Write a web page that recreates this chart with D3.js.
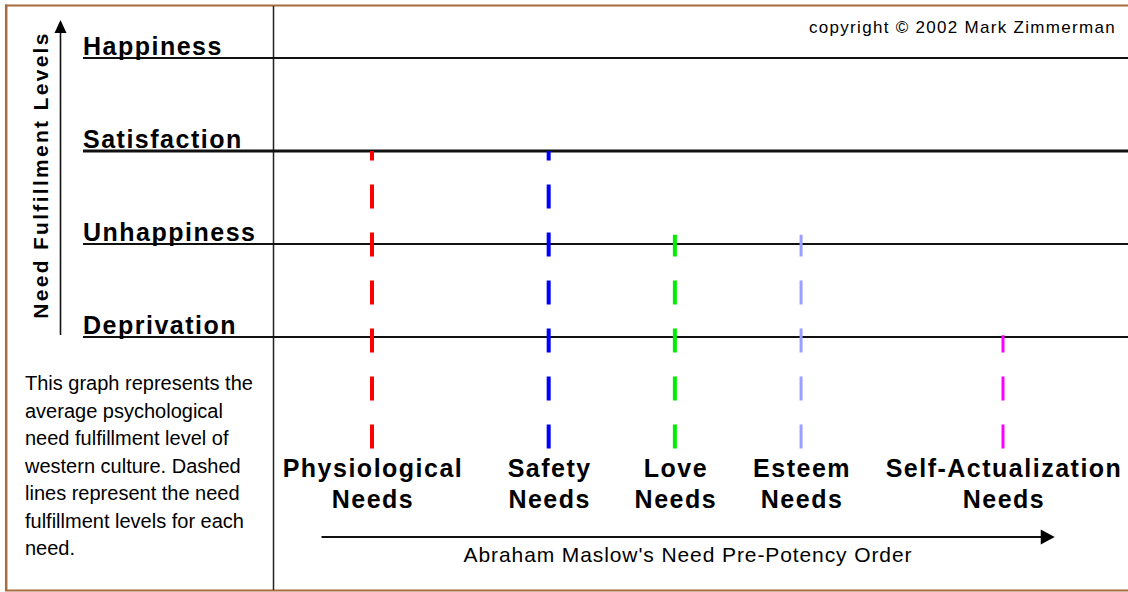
<!DOCTYPE html>
<html>
<head>
<meta charset="utf-8">
<script src="https://cdn.jsdelivr.net/npm/d3@7"></script>
<style>
  html, body { margin: 0; padding: 0; background: #fff; }
  svg { display: block; }
  text { font-family: "Liberation Sans", Arial, Helvetica, sans-serif; fill: #000; }
</style>
</head>
<body>
<svg id="chart" width="1128" height="592"></svg>
<script>
// ---- data ----
const levels = ["Deprivation", "Unhappiness", "Satisfaction", "Happiness"];   // level values 1..4
const levelValues = [1, 2, 3, 4];
const needs = ["Physiological", "Safety", "Love", "Esteem", "Self-Actualization"];
const needLine2 = ["Needs", "Needs", "Needs", "Needs", "Needs"];
const needOrder = [1, 2.4, 3.4, 4.4, 6];             // position along pre-potency axis
const needFulfillment = [3, 3, 2.1, 2.1, 1.02];      // fulfillment level of each need
const needColors = ["#ff0000", "#0000ff", "#00ee00", "#99a0ff", "#ff00ff"];
const needWidths = [4, 4, 4, 3, 3];
const floorValue = -0.2;
const yTitle = "Need Fulfillment Levels";
const xTitle = "Abraham Maslow's Need Pre-Potency Order";
const copyright = "copyright \u00A9 2002 Mark Zimmerman";
const note = [
  "This graph represents the",
  "average psychological",
  "need fulfillment level of",
  "western culture. Dashed",
  "lines represent the need",
  "fulfillment levels for each",
  "need."
];

// ---- scales ----
const W = 1128, H = 592;
const y = d3.scaleLinear().domain([1, 4]).range([337, 58]);
const x = d3.scaleLinear().domain([1, 6]).range([372, 1003]);

const svg = d3.select("#chart");

// border (top, left, bottom)
const border = "#a86b40";
svg.append("line").attr("x1", 5).attr("x2", W).attr("y1", 5.5).attr("y2", 5.5)
  .attr("stroke", border).attr("stroke-width", 2);
svg.append("line").attr("x1", 6.2).attr("x2", 6.2).attr("y1", 4.5).attr("y2", 591)
  .attr("stroke", border).attr("stroke-width", 2.5);
svg.append("line").attr("x1", 5).attr("x2", W).attr("y1", 590.5).attr("y2", 590.5)
  .attr("stroke", border).attr("stroke-width", 2);

// divider
svg.append("line").attr("x1", 273.5).attr("x2", 273.5).attr("y1", 6).attr("y2", 590)
  .attr("stroke", "#222").attr("stroke-width", 1.5);

// level lines
svg.selectAll(".lvl").data(levelValues).join("line")
  .attr("x1", 83).attr("x2", W)
  .attr("y1", d => y(d)).attr("y2", d => y(d))
  .attr("stroke", "#111")
  .attr("stroke-width", d => d === 3 ? 3 : 1.8);

// level labels
svg.selectAll(".lvlText").data(levelValues).join("text")
  .attr("x", 83).attr("y", d => y(d) - 3)
  .attr("font-size", 25).attr("font-weight", "bold")
  .attr("letter-spacing", 1.5)
  .text((d, i) => levels[i]);

// y axis arrow
const yTop = 20, yBottom = 335, yAx = 60.5;
svg.append("line").attr("x1", yAx).attr("x2", yAx).attr("y1", yBottom).attr("y2", yTop + 10)
  .attr("stroke", "#111").attr("stroke-width", 1.6);
svg.append("path")
  .attr("d", d3.line()([[yAx, yTop], [yAx - 6, yTop + 13], [yAx + 6, yTop + 13]]) + "Z")
  .attr("fill", "#000");
svg.append("text")
  .attr("transform", "translate(47.5,175) rotate(-90)")
  .attr("text-anchor", "middle")
  .attr("font-size", 21).attr("font-weight", "bold")
  .attr("letter-spacing", 2.3)
  .text(yTitle);

// dashed need lines (drawn from floor upward so dashes start at the floor)
svg.selectAll(".need").data(needs).join("line")
  .attr("x1", (d, i) => x(needOrder[i])).attr("x2", (d, i) => x(needOrder[i]))
  .attr("y1", y(floorValue))
  .attr("y2", (d, i) => y(needFulfillment[i]))
  .attr("stroke", (d, i) => needColors[i])
  .attr("stroke-width", (d, i) => needWidths[i])
  .attr("stroke-dasharray", "24,24");

// need labels
const lab = svg.selectAll(".needText").data(needs).join("text")
  .attr("text-anchor", "middle")
  .attr("font-size", 25).attr("font-weight", "bold")
  .attr("letter-spacing", 1.5);
lab.append("tspan").attr("x", (d, i) => x(needOrder[i]) + 1).attr("y", 477).text(d => d);
lab.append("tspan").attr("x", (d, i) => x(needOrder[i]) + 1).attr("y", 508).text((d, i) => needLine2[i]);

// x axis arrow
const axY = 537, axX0 = x(0.6), axX1 = x(6.41);
svg.append("line").attr("x1", axX0).attr("x2", axX1 - 12).attr("y1", axY).attr("y2", axY)
  .attr("stroke", "#111").attr("stroke-width", 2);
svg.append("path")
  .attr("d", d3.line()([[axX1, axY], [axX1 - 14, axY - 7.5], [axX1 - 14, axY + 7.5]]) + "Z")
  .attr("fill", "#000");
svg.append("text")
  .attr("x", 688).attr("y", 562)
  .attr("text-anchor", "middle")
  .attr("font-size", 21).attr("letter-spacing", 0.9)
  .text(xTitle);

// copyright
svg.append("text")
  .attr("x", 809).attr("y", 33)
  .attr("font-size", 17).attr("letter-spacing", 1.3)
  .text(copyright);

// note paragraph
svg.append("text")
  .attr("font-size", 20)
  .selectAll("tspan").data(note).join("tspan")
  .attr("x", 25).attr("y", (d, i) => 390 + i * 27.5)
  .text(d => d);
</script>
</body>
</html>
